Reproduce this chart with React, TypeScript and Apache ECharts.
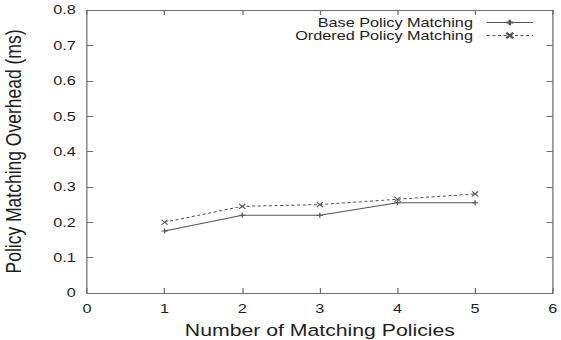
import React, { useEffect, useRef } from "react";
import * as echarts from "echarts";

const xValues = [1, 2, 3, 4, 5];
const baseMatching = [0.175, 0.22, 0.22, 0.255, 0.255];
const orderedMatching = [0.2, 0.245, 0.25, 0.265, 0.28];
const seriesNames = ["Base Policy Matching", "Ordered Policy Matching"];

const FONT = "'Liberation Sans', Arial, sans-serif";
const LINE = "#555";
const AXIS = "#6e6e6e";
const TEXT = "#1e1e1e";

// The reference figure is stretched horizontally; draw at a narrower width and stretch.
const W = 449;
const H = 340;
const STRETCH = 561 / W;

const plusSym = "path://M0,5L10,5M5,0L5,10";
const crossSym = "path://M0,0L10,10M0,10L10,0";

export default function App() {
  const ref = useRef<HTMLDivElement>(null);
  useEffect(() => {
    if (!ref.current) return;
    const chart = echarts.init(ref.current, undefined, { renderer: "svg" });
    const mirrorAxis = {
      axisLabel: { show: false },
      axisLine: { show: true, onZero: false, lineStyle: { color: AXIS, width: 1 } },
      axisTick: { show: true, inside: true, length: 5, lineStyle: { color: AXIS } },
      splitLine: { show: false },
    };
    chart.setOption({
      animation: false,
      backgroundColor: "#fff",
      textStyle: { fontFamily: FONT },
      grid: {
        left: 69.6,
        right: 6.6,
        top: 10,
        bottom: 47,
        show: false,
        containLabel: false,
        outerBoundsMode: "none",
      },
      legend: {
        orient: "vertical",
        right: 22,
        top: 16,
        padding: 0,
        align: "right",
        itemWidth: 37,
        itemHeight: 7,
        itemGap: 0,
        lineStyle: { width: 1 },
        textStyle: { fontFamily: FONT, fontSize: 13, lineHeight: 13, color: TEXT, padding: [0, 6, 0, 0] },
        data: seriesNames,
      },
      xAxis: [
        {
          type: "value",
          min: 0,
          max: 6,
          interval: 1,
          name: "Number of Matching Policies",
          nameLocation: "middle",
          nameGap: 29,
          nameTextStyle: { fontFamily: FONT, fontSize: 17, color: TEXT },
          axisLabel: { fontFamily: FONT, fontSize: 13, color: TEXT, margin: 9 },
          axisLine: { show: true, onZero: false, lineStyle: { color: AXIS, width: 1 } },
          axisTick: { show: true, inside: true, length: 5, lineStyle: { color: AXIS } },
          splitLine: { show: false },
        },
        { type: "value", min: 0, max: 6, interval: 1, position: "top", ...mirrorAxis },
      ],
      yAxis: [
        {
          type: "value",
          min: 0,
          max: 0.8,
          interval: 0.1,
          name: "Policy Matching Overhead (ms)",
          nameLocation: "middle",
          nameGap: 50,
          nameTextStyle: { fontFamily: FONT, fontSize: 17.5, color: TEXT },
          axisLabel: {
            fontFamily: FONT,
            fontSize: 13,
            color: TEXT,
            margin: 9,
            formatter: (v: number) => (v === 0 ? "0" : v.toFixed(1)),
          },
          axisLine: { show: true, onZero: false, lineStyle: { color: AXIS, width: 1 } },
          axisTick: { show: true, inside: true, length: 5, lineStyle: { color: AXIS } },
          splitLine: { show: false },
        },
        { type: "value", min: 0, max: 0.8, interval: 0.1, position: "right", ...mirrorAxis },
      ],
      series: [
        {
          name: seriesNames[0],
          type: "line",
          data: xValues.map((x, i) => [x, baseMatching[i]]),
          symbol: plusSym,
          symbolSize: 5,
          lineStyle: { color: LINE, width: 1 },
          itemStyle: { color: LINE, borderColor: LINE, borderWidth: 1 },
        },
        {
          name: seriesNames[1],
          type: "line",
          data: xValues.map((x, i) => [x, orderedMatching[i]]),
          symbol: crossSym,
          symbolSize: 5,
          lineStyle: { color: LINE, width: 1, type: [2.5, 2] },
          itemStyle: { color: LINE, borderColor: LINE, borderWidth: 1 },
        },
      ],
    });
    return () => chart.dispose();
  }, []);
  return (
    <div
      ref={ref}
      style={{
        width: W,
        height: H,
        position: "absolute",
        left: 0,
        top: 0,
        transform: `scaleX(${STRETCH})`,
        transformOrigin: "left top",
      }}
    />
  );
}
